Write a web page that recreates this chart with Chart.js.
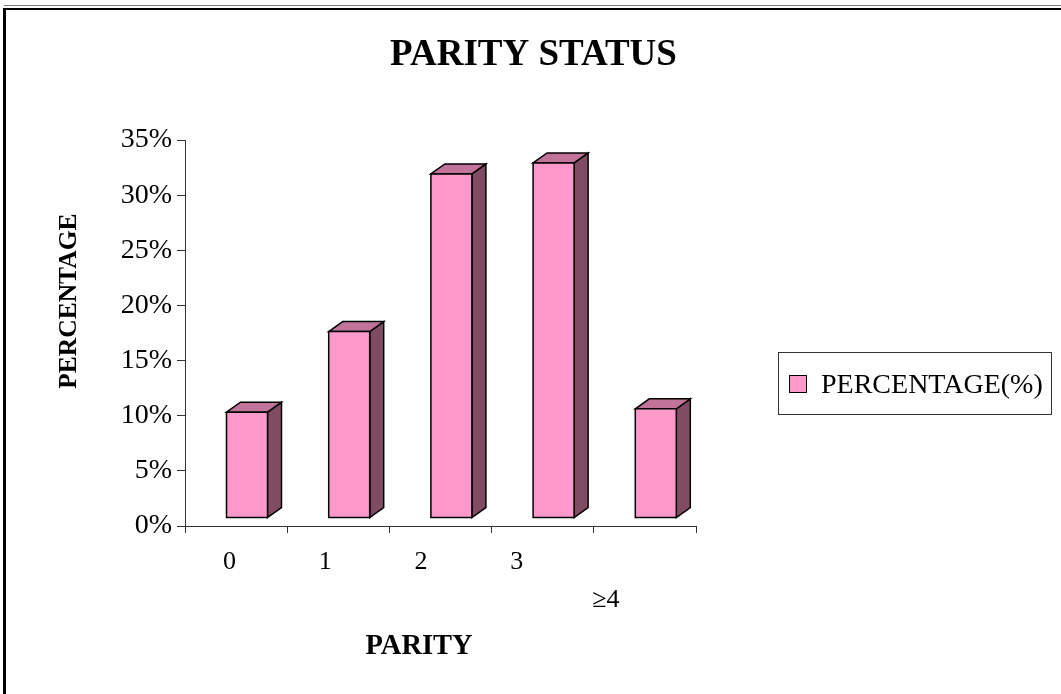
<!DOCTYPE html>
<html>
<head>
<meta charset="utf-8">
<script src="https://cdn.jsdelivr.net/npm/chart.js@4/dist/chart.umd.min.js"></script>
<style>
  html, body { margin: 0; padding: 0; background: #fff; }
  #wrap { position: relative; width: 1061px; height: 694px; overflow: hidden; background: #fff; }
  #grayline { position: absolute; left: 4px; top: 5px; right: 0; height: 1px; background: #7a7a7a; }
  #frame { position: absolute; left: 3px; top: 8px; right: -10px; bottom: -10px; border-top: 2px solid #000; border-left: 3px solid #000; }
  canvas { position: absolute; left: 0; top: 0; }
</style>
</head>
<body>
<div id="wrap">
  <div id="grayline"></div>
  <div id="frame"></div>
  <canvas id="c" width="1061" height="694"></canvas>
</div>
<script>
// ---- data ----
const categories = ['0', '1', '2', '3', '\u22654'];
const percentages = [9.6, 16.9, 31.2, 32.2, 9.9];
const seriesLabel = 'PERCENTAGE(%)';
const yTicks = [0, 5, 10, 15, 20, 25, 30, 35];
const chartTitle = 'PARITY STATUS';
const xTitle = 'PARITY';
const yTitle = 'PERCENTAGE';

const SERIF = "'Liberation Serif', 'Times New Roman', serif";
const FRONT = '#FF99CC', TOP = '#C27399', SIDE = '#804C64';
const NB = '\u00a0';

// 3D column drawing using bar elements computed by Chart.js
const column3d = {
  id: 'column3d',
  beforeDatasetDraw() { return false; },
  afterDatasetsDraw(chart) {
    const ctx = chart.ctx;
    const meta = chart.getDatasetMeta(0);
    const dx = 14, dy = 10, floor = 8;
    ctx.save();
    ctx.lineWidth = 1.5;
    ctx.strokeStyle = '#000';
    ctx.lineJoin = 'miter';
    meta.data.forEach(el => {
      const p = el.getProps(['x', 'y', 'base', 'width'], true);
      const l = p.x - p.width / 2 + 10.9;
      const r = l + p.width;
      const t = p.y - floor;
      const b = p.base - floor;
      ctx.beginPath();
      ctx.moveTo(r, t); ctx.lineTo(r + dx, t - dy); ctx.lineTo(r + dx, b - dy); ctx.lineTo(r, b); ctx.closePath();
      ctx.fillStyle = SIDE; ctx.fill(); ctx.stroke();
      ctx.beginPath();
      ctx.moveTo(l, t); ctx.lineTo(l + dx, t - dy); ctx.lineTo(r + dx, t - dy); ctx.lineTo(r, t); ctx.closePath();
      ctx.fillStyle = TOP; ctx.fill(); ctx.stroke();
      ctx.beginPath();
      ctx.rect(l, t, r - l, b - t);
      ctx.fillStyle = FRONT; ctx.fill(); ctx.stroke();
    });
    ctx.restore();
  }
};

// right-hand layout box that holds the boxed legend
const boxLegend = {
  id: 'boxLegend',
  beforeInit(chart) {
    const box = {
      position: 'right',
      weight: 0,
      fullSize: false,
      options: {},
      isHorizontal() { return false; },
      getPadding() { return { top: 0, left: 0, right: 0, bottom: 0 }; },
      update(maxW, maxH) { this.width = 365; this.height = maxH; },
      draw() {
        const ctx = chart.ctx;
        const ds = chart.data.datasets[0];
        ctx.save();
        ctx.strokeStyle = '#333';
        ctx.lineWidth = 1;
        ctx.strokeRect(778.5, 352.5, 273, 62);
        ctx.fillStyle = ds.backgroundColor;
        ctx.fillRect(789.5, 375.5, 17, 17);
        ctx.strokeStyle = '#000';
        ctx.strokeRect(789.5, 375.5, 17, 17);
        ctx.fillStyle = '#000';
        ctx.font = "28px " + SERIF;
        ctx.textBaseline = 'alphabetic';
        ctx.textAlign = 'left';
        ctx.fillText(ds.label, 821, 393);
        ctx.restore();
      }
    };
    Chart.layouts.addBox(chart, box);
  }
};

const xShift = [2, 4, 6, 8, 12];

new Chart(document.getElementById('c'), {
  type: 'bar',
  data: {
    labels: categories,
    datasets: [{
      label: seriesLabel,
      data: percentages,
      backgroundColor: FRONT,
      borderColor: '#000',
      borderWidth: 1,
      barThickness: 41
    }]
  },
  options: {
    responsive: false,
    animation: false,
    events: [],
    layout: { padding: { left: 6, right: 0, top: 0, bottom: 0 } },
    plugins: {
      legend: { display: false },
      tooltip: { enabled: false },
      title: {
        display: true,
        text: chartTitle,
        color: '#000',
        font: { family: SERIF, size: 37, weight: 'bold', lineHeight: 1.2 },
        padding: { top: 33, bottom: 62.6 }
      }
    },
    scales: {
      x: {
        grid: { display: true, drawOnChartArea: false, drawTicks: true, tickLength: 7, color: '#333', offset: true },
        border: { display: true, color: '#333', width: 1 },
        ticks: {
          color: '#000',
          font: { family: SERIF, size: 26, lineHeight: '38px' },
          padding: 10,
          maxRotation: 0,
          autoSkip: false,
          callback: (v, i) => {
            const lab = categories[i] + NB.repeat(xShift[i]);
            return i === categories.length - 1 ? ['', lab] : lab;
          }
        },
        title: {
          display: true,
          text: xTitle + NB.repeat(6),
          color: '#000',
          font: { family: SERIF, size: 28.5, weight: 'bold', lineHeight: 1.2 },
          padding: { top: 0, bottom: 30 }
        },
        afterFit: s => { s.height = 168; }
      },
      y: {
        min: 0,
        max: 35,
        afterBuildTicks: s => { s.ticks = yTicks.map(v => ({ value: v })); },
        grid: { display: true, drawOnChartArea: false, drawTicks: true, tickLength: 8, color: '#333' },
        border: { display: true, color: '#333', width: 1 },
        ticks: {
          color: '#000',
          font: { family: SERIF, size: 28 },
          padding: 5,
          callback: v => v + '%'
        },
        title: {
          display: true,
          text: NB.repeat(10) + yTitle,
          color: '#000',
          font: { family: SERIF, size: 25.5, weight: 'bold', lineHeight: 1.2 },
          padding: { top: 47.7, bottom: 0 }
        },
        afterFit: s => { s.width = 179; }
      }
    }
  },
  plugins: [column3d, boxLegend]
});
</script>
</body>
</html>
